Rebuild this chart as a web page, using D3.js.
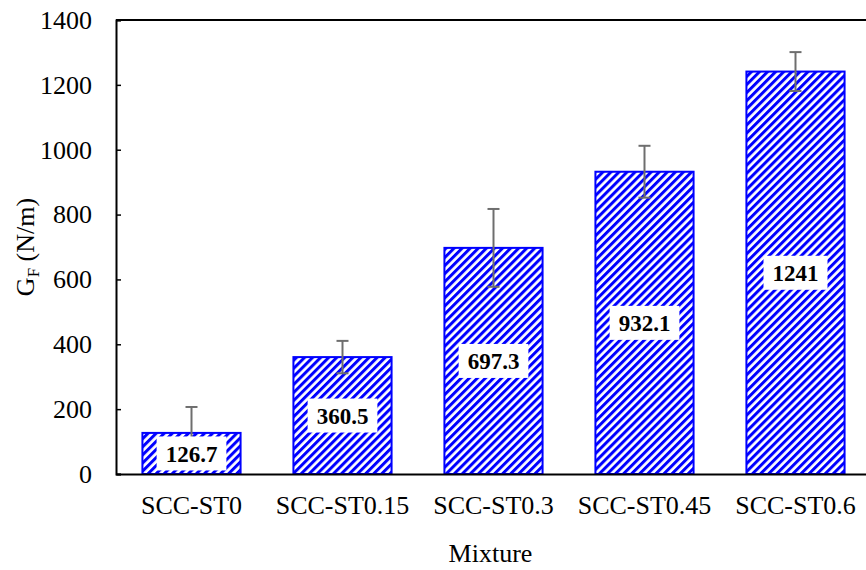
<!DOCTYPE html>
<html lang="en">
<head>
  <meta charset="UTF-8">
  <title>GF by mixture</title>
  <script src="https://cdn.jsdelivr.net/npm/d3@7"></script>
  <style>
    body { margin: 0; background: #fff; }
  </style>
</head>
<body>
  <div id="chart"></div>
  <script>
    // data
    const mixtures = ["SCC-ST0", "SCC-ST0.15", "SCC-ST0.3", "SCC-ST0.45", "SCC-ST0.6"];
    const gf = [126.7, 360.5, 697.3, 932.1, 1241];
    const gfErr = [80, 50, 120, 80, 60];
    const labels = ["126.7", "360.5", "697.3", "932.1", "1241"];
    const yTicks = [0, 200, 400, 600, 800, 1000, 1200, 1400];

    const FONT = "Liberation Serif, Times New Roman, Tinos, DejaVu Serif, serif";
    const W = 866, H = 570;
    const margin = {top: 20, right: -5, bottom: 96, left: 116};
    const width = W - margin.left - margin.right;
    const height = H - margin.top - margin.bottom;

    const svg = d3.select("#chart")
      .append("svg")
        .attr("width", W)
        .attr("height", H)
        .attr("font-family", FONT);

    // diagonal stripe fill
    const defs = svg.append("defs");
    const pat = defs.append("pattern")
      .attr("id", "stripes")
      .attr("patternUnits", "userSpaceOnUse")
      .attr("width", 5.7)
      .attr("height", 5.7)
      .attr("patternTransform", "rotate(45)");
    pat.append("rect").attr("width", 5.7).attr("height", 5.7).attr("fill", "#fff");
    pat.append("rect").attr("width", 3).attr("height", 5.7).attr("fill", "#0000ff");

    const g = svg.append("g")
      .attr("transform", `translate(${margin.left},${margin.top})`);

    const x = d3.scaleBand()
      .domain(mixtures)
      .range([0, width])
      .paddingInner(0.35)
      .paddingOuter(0.175);

    const y = d3.scaleLinear()
      .domain([0, 1400])
      .range([height, 0]);

    // bars
    g.selectAll("rect.bar")
      .data(gf)
      .join("rect")
        .attr("class", "bar")
        .attr("x", (d, i) => x(mixtures[i]))
        .attr("y", d => y(d))
        .attr("width", x.bandwidth())
        .attr("height", d => y(0) - y(d))
        .attr("fill", "url(#stripes)")
        .attr("stroke", "#0000ff")
        .attr("stroke-width", 2);

    // error bars
    const eb = g.selectAll("g.err")
      .data(gf)
      .join("g")
        .attr("class", "err")
        .attr("stroke", "#6e6e6e")
        .attr("stroke-width", 2);
    const cx = i => x(mixtures[i]) + x.bandwidth() / 2;
    eb.append("line")
      .attr("x1", (d, i) => cx(i)).attr("x2", (d, i) => cx(i))
      .attr("y1", (d, i) => y(d - gfErr[i])).attr("y2", (d, i) => y(d + gfErr[i]));
    eb.append("line")
      .attr("x1", (d, i) => cx(i) - 6).attr("x2", (d, i) => cx(i) + 6)
      .attr("y1", (d, i) => y(d + gfErr[i])).attr("y2", (d, i) => y(d + gfErr[i]));
    eb.append("line")
      .attr("x1", (d, i) => cx(i) - 6).attr("x2", (d, i) => cx(i) + 6)
      .attr("y1", (d, i) => y(d - gfErr[i])).attr("y2", (d, i) => y(d - gfErr[i]));

    // value labels in white boxes at bar middle
    const lab = g.selectAll("g.lab")
      .data(gf)
      .join("g")
        .attr("class", "lab")
        .attr("transform", (d, i) => `translate(${cx(i)},${y(d / 2)})`);
    lab.append("text")
      .attr("text-anchor", "middle")
      .attr("dy", "0.35em")
      .attr("font-family", FONT)
      .attr("font-size", 23)
      .attr("font-weight", "bold")
      .text((d, i) => labels[i]);
    lab.each(function() {
      const t = d3.select(this).select("text");
      const bb = t.node().getBBox();
      d3.select(this).insert("rect", "text")
        .attr("x", bb.x - 9)
        .attr("y", -17)
        .attr("width", bb.width + 18)
        .attr("height", 34)
        .attr("fill", "#fff");
    });

    // y axis, inside ticks
    const yAxis = g.append("g")
      .call(d3.axisLeft(y).tickValues(yTicks).tickFormat(d3.format("d")).tickSize(-5).tickPadding(24))
      .attr("font-family", FONT)
      .attr("font-size", 26);
    yAxis.select(".domain").attr("stroke-width", 2);
    yAxis.selectAll(".tick line").attr("stroke-width", 1.5);
    yAxis.selectAll(".tick text").attr("fill", "#000");

    // x axis, no ticks
    const xAxis = g.append("g")
      .attr("transform", `translate(0,${height})`)
      .call(d3.axisBottom(x).tickSize(0).tickPadding(22))
      .attr("font-family", FONT)
      .attr("font-size", 26);
    xAxis.select(".domain").attr("stroke-width", 2);
    xAxis.selectAll(".tick text").attr("fill", "#000");

    // top frame line
    g.append("line")
      .attr("x1", 0).attr("x2", width)
      .attr("y1", 0).attr("y2", 0)
      .attr("stroke", "#000")
      .attr("stroke-width", 2);

    // axis titles
    svg.append("text")
      .attr("x", margin.left + width / 2 - 3)
      .attr("y", 562)
      .attr("text-anchor", "middle")
      .attr("font-size", 26)
      .text("Mixture");

    const yt = svg.append("text")
      .attr("transform", `translate(34,${margin.top + height / 2}) rotate(-90)`)
      .attr("text-anchor", "middle")
      .attr("font-size", 26);
    yt.append("tspan").text("G");
    yt.append("tspan").attr("dy", 5).attr("font-size", 17).text("F");
    yt.append("tspan").attr("dy", -5).text(" (N/m)");
  </script>
</body>
</html>
